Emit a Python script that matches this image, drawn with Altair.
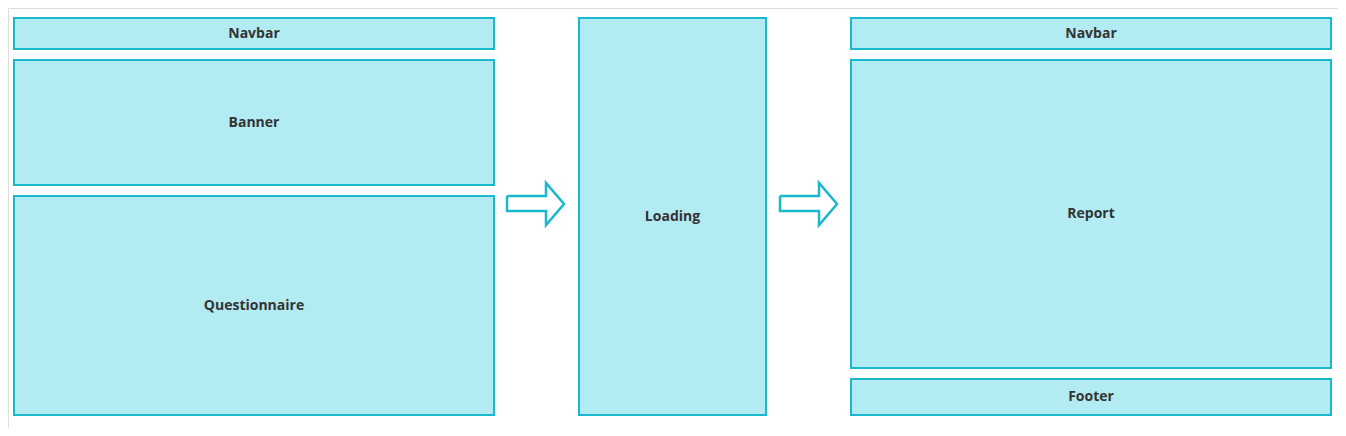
import altair as alt
import pandas as pd

labels = ["Navbar", "Banner", "Questionnaire", "Loading", "Navbar", "Report", "Footer"]
x0 = [14, 14, 14, 579, 851, 851, 851]
x1 = [494, 494, 494, 766, 1331, 1331, 1331]
y0 = [18, 60, 196, 18, 18, 60, 379]
y1 = [49, 185, 415, 415, 49, 368, 415]

arrow_x = [507, 546, 546, 564, 546, 546, 507, 507]
arrow_y = [196, 196, 183, 204, 225, 211, 211, 196]
arrow_shift = [0, 273]

boxes = pd.DataFrame({"label": labels, "x0": x0, "x1": x1, "y0": y0, "y1": y1})
boxes["cx"] = (boxes.x0 + boxes.x1) / 2
boxes["cy"] = (boxes.y0 + boxes.y1) / 2

rows = []
for k, s in enumerate(arrow_shift):
    for i, (ax, ay) in enumerate(zip(arrow_x, arrow_y)):
        rows.append({"a": k, "i": i, "x": ax + s, "y": ay})
arrows = pd.DataFrame(rows)

xs = alt.Scale(domain=[8, 1338], nice=False, zero=False)
ys = alt.Scale(domain=[8, 428], nice=False, zero=False, reverse=True)

rects = alt.Chart(boxes).mark_rect(fill="#b3ebf2", stroke="#1ab8cc", strokeWidth=2).encode(
    x=alt.X("x0:Q", scale=xs, axis=None), x2="x1", y=alt.Y("y0:Q", scale=ys, axis=None), y2="y1")
texts = alt.Chart(boxes).mark_text(font="Open Sans", fontWeight="bold", fontSize=14, color="#333333").encode(
    x=alt.X("cx:Q", scale=xs), y=alt.Y("cy:Q", scale=ys), text="label")
arr = alt.Chart(arrows).mark_line(color="#1ab8cc", strokeWidth=2.5, strokeJoin="miter").encode(
    x=alt.X("x:Q", scale=xs), y=alt.Y("y:Q", scale=ys), detail="a:N", order="i:Q")

chart = (rects + arr + texts).properties(
    width=1330, height=420, padding=0, autosize=alt.AutoSizeParams(type="none")
).configure_view(stroke=None).configure(background="white")

chart.save("out.html", embed_options={"renderer": "svg", "actions": False})
